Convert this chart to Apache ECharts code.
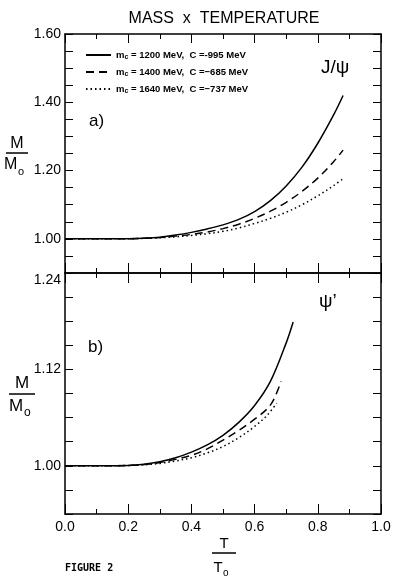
<!DOCTYPE html>
<html>
<head>
<meta charset="utf-8">
<script src="https://cdn.jsdelivr.net/npm/echarts@6/dist/echarts.min.js"></script>
<style>
  html, body { margin: 0; padding: 0; background: #fff; }
  #chart { width: 396px; height: 584px; }
</style>
</head>
<body>
<div id="chart"></div>
<script>
// panel a) J/psi
var tTop = [0, 0.1, 0.2, 0.25, 0.3, 0.35, 0.4, 0.45, 0.5, 0.55, 0.6, 0.65, 0.7, 0.75, 0.8, 0.85, 0.88];
var jpsiSolid  = [1, 1, 1.0005, 1.002, 1.005, 1.011, 1.019, 1.029, 1.041, 1.057, 1.08, 1.112, 1.155, 1.21, 1.28, 1.363, 1.42];
var jpsiDashed = [1, 1, 1.0005, 1.002, 1.004, 1.008, 1.013, 1.02, 1.03, 1.043, 1.06, 1.081, 1.107, 1.139, 1.178, 1.226, 1.26];
var jpsiDotted = [1, 1, 1.0004, 1.0015, 1.003, 1.006, 1.01, 1.015, 1.022, 1.032, 1.045, 1.06, 1.078, 1.1, 1.126, 1.156, 1.176];

// panel b) psi'
var tPsiSolid  = [0, 0.1, 0.2, 0.25, 0.3, 0.35, 0.4, 0.45, 0.5, 0.55, 0.6, 0.65, 0.7, 0.722];
var psiSolid   = [1, 1, 1.0005, 1.002, 1.005, 1.01, 1.017, 1.026, 1.038, 1.054, 1.075, 1.105, 1.153, 1.179];
var tPsiDashed = [0, 0.1, 0.2, 0.25, 0.3, 0.35, 0.4, 0.45, 0.5, 0.55, 0.6, 0.64, 0.66, 0.684];
var psiDashed  = [1, 1, 1.0005, 1.0015, 1.004, 1.008, 1.013, 1.021, 1.032, 1.044, 1.058, 1.071, 1.082, 1.105];
var tPsiDotted = [0, 0.1, 0.2, 0.25, 0.3, 0.35, 0.4, 0.45, 0.5, 0.55, 0.6, 0.64, 0.67];
var psiDotted  = [1, 1, 1.0004, 1.0012, 1.003, 1.006, 1.01, 1.016, 1.024, 1.035, 1.049, 1.063, 1.078];

// legend text
var massValues = ['1200', '1400', '1640'];
var cValues = ['-995', '\u2212685', '\u2212737'];
var seriesNames = massValues.map(function (m, i) {
    return 'mc = ' + m + ' MeV, C =' + cValues[i] + ' MeV';
});

var xTicks = [0, 0.2, 0.4, 0.6, 0.8, 1.0];
var topYLabels = [1.00, 1.20, 1.40, 1.60];
var bottomYLabels = [1.00, 1.12, 1.24];

function pairs(xs, ys) {
    return xs.map(function (x, i) { return [x, ys[i]]; });
}

function isIn(list, v) {
    for (var i = 0; i < list.length; i++) {
        if (Math.abs(list[i] - v) < 1e-6) return true;
    }
    return false;
}

var FONT = '"Liberation Sans", Arial, sans-serif';
var lineTypes = ['solid', [8, 5], [1.5, 3]];

function makeSeries(name, data, type, xi, yi) {
    return {
        name: name,
        type: 'line',
        xAxisIndex: xi,
        yAxisIndex: yi,
        data: data,
        smooth: 0.35,
        symbol: 'none',
        silent: true,
        itemStyle: { color: '#000' },
        lineStyle: { color: '#000', width: 1.5, type: type }
    };
}

var axisLine = { show: true, onZero: false, lineStyle: { color: '#000', width: 1.5 } };

function xAxisDef(grid, pos, showLabel, tickLen) {
    return {
        type: 'value',
        gridIndex: grid,
        position: pos,
        min: 0,
        max: 1,
        interval: 0.2,
        axisLine: axisLine,
        axisTick: { show: true, inside: true, length: tickLen, lineStyle: { color: '#000', width: 1 } },
        minorTick: { show: true, splitNumber: 2, length: 5, lineStyle: { color: '#000', width: 1 } },
        splitLine: { show: false },
        axisLabel: {
            show: showLabel,
            margin: 6,
            color: '#000',
            fontSize: 14,
            fontFamily: FONT,
            formatter: function (v) { return isIn(xTicks, v) ? v.toFixed(1) : ''; }
        }
    };
}

function yAxisDef(grid, pos, min, max, interval, labels, maxTop) {
    var ax = {
        type: 'value',
        gridIndex: grid,
        position: pos,
        min: min,
        max: max,
        interval: interval,
        axisLine: axisLine,
        axisTick: { show: true, inside: true, length: 8, lineStyle: { color: '#000', width: 1 } },
        splitLine: { show: false },
        axisLabel: {
            show: labels !== null,
            margin: 4,
            color: '#000',
            fontSize: 14,
            fontFamily: FONT,
            showMinLabel: true,
            showMaxLabel: true,
            formatter: function (v) { return labels && isIn(labels, v) ? v.toFixed(2) : ''; }
        }
    };
    if (maxTop) ax.axisLabel.verticalAlignMaxLabel = 'top';
    return ax;
}

var dom = document.getElementById('chart');
var myChart = echarts.init(dom, null, { renderer: 'canvas' });

var option = {
    backgroundColor: '#fff',
    animation: false,
    grid: [
        { left: 65, right: 15, top: 34, height: 239 },
        { left: 65, right: 15, top: 273, height: 241 }
    ],
    legend: {
        data: seriesNames,
        orient: 'vertical',
        left: 80,
        top: 45,
        itemWidth: 25,
        itemHeight: 10,
        itemGap: 6,
        selectedMode: false,
        itemStyle: { opacity: 0 },
        formatter: function (name) {
            var i = seriesNames.indexOf(name);
            return '{m|m}{s|c}{m| = ' + massValues[i] + ' MeV,  C =' + cValues[i] + ' MeV}';
        },
        textStyle: {
            rich: {
                m: { fontSize: 9.5, fontWeight: 'bold', fontFamily: FONT, color: '#000' },
                s: { fontSize: 7, fontWeight: 'bold', fontFamily: FONT, color: '#000', padding: [5, 0, 0, 0] }
            }
        }
    },
    xAxis: [
        xAxisDef(0, 'bottom', false, 10),
        xAxisDef(0, 'top', false, 9),
        xAxisDef(1, 'bottom', true, 10),
        xAxisDef(1, 'top', false, 10)
    ],
    yAxis: [
        yAxisDef(0, 'left', 0.9, 1.6, 0.05, topYLabels, false),
        yAxisDef(0, 'right', 0.9, 1.6, 0.05, null, false),
        yAxisDef(1, 'left', 0.94, 1.24, 0.03, bottomYLabels, true),
        yAxisDef(1, 'right', 0.94, 1.24, 0.03, null, false)
    ],
    series: [
        makeSeries(seriesNames[0], pairs(tTop, jpsiSolid), lineTypes[0], 0, 0),
        makeSeries(seriesNames[1], pairs(tTop, jpsiDashed), lineTypes[1], 0, 0),
        makeSeries(seriesNames[2], pairs(tTop, jpsiDotted), lineTypes[2], 0, 0),
        makeSeries(seriesNames[0], pairs(tPsiSolid, psiSolid), lineTypes[0], 2, 2),
        makeSeries(seriesNames[1], pairs(tPsiDashed, psiDashed), lineTypes[1], 2, 2),
        makeSeries(seriesNames[2], pairs(tPsiDotted, psiDotted), lineTypes[2], 2, 2)
    ],
    graphic: [
        { type: 'text', x: 224, y: 11, style: { text: 'MASS  x  TEMPERATURE', font: '16px ' + FONT, fill: '#000', align: 'center' } },
        { type: 'text', x: 321, y: 58, style: { text: 'J/\u03c8', font: '19px ' + FONT, fill: '#000' } },
        { type: 'text', x: 319, y: 292, style: { text: '\u03c8\u2019', font: '19px ' + FONT, fill: '#000' } },
        { type: 'text', x: 89, y: 113, style: { text: 'a)', font: '17px ' + FONT, fill: '#000' } },
        { type: 'text', x: 88, y: 339, style: { text: 'b)', font: '17px ' + FONT, fill: '#000' } },
        // M / Mo, top
        { type: 'text', x: 17, y: 136, style: { text: 'M', font: '16px ' + FONT, fill: '#000', align: 'center' } },
        { type: 'line', shape: { x1: 6, y1: 153, x2: 28, y2: 153 }, style: { stroke: '#000', lineWidth: 1.5 } },
        { type: 'text', x: 4, y: 157, style: { text: 'M', font: '16px ' + FONT, fill: '#000' } },
        { type: 'text', x: 18, y: 166, style: { text: 'o', font: '11px ' + FONT, fill: '#000' } },
        // M / Mo, bottom
        { type: 'text', x: 22, y: 375, style: { text: 'M', font: '17px ' + FONT, fill: '#000', align: 'center' } },
        { type: 'line', shape: { x1: 9, y1: 394, x2: 35, y2: 394 }, style: { stroke: '#000', lineWidth: 1.5 } },
        { type: 'text', x: 9, y: 398, style: { text: 'M', font: '17px ' + FONT, fill: '#000' } },
        { type: 'text', x: 24, y: 407, style: { text: 'o', font: '12px ' + FONT, fill: '#000' } },
        // T / To
        { type: 'text', x: 224, y: 536, style: { text: 'T', font: '15px ' + FONT, fill: '#000', align: 'center' } },
        { type: 'line', shape: { x1: 212, y1: 553, x2: 236, y2: 553 }, style: { stroke: '#000', lineWidth: 1.5 } },
        { type: 'text', x: 218, y: 560, style: { text: 'T', font: '15px ' + FONT, fill: '#000', align: 'center' } },
        { type: 'text', x: 223, y: 568, style: { text: 'o', font: '10px ' + FONT, fill: '#000' } },
        { type: 'text', x: 65, y: 563, style: { text: 'FIGURE 2', font: 'bold 10px "DejaVu Sans Mono", monospace', fill: '#000' } }
    ]
};

if (option && typeof option === 'object') {
    myChart.setOption(option, true);
}

window.addEventListener('resize', function () {
    myChart.resize();
});
</script>
</body>
</html>
